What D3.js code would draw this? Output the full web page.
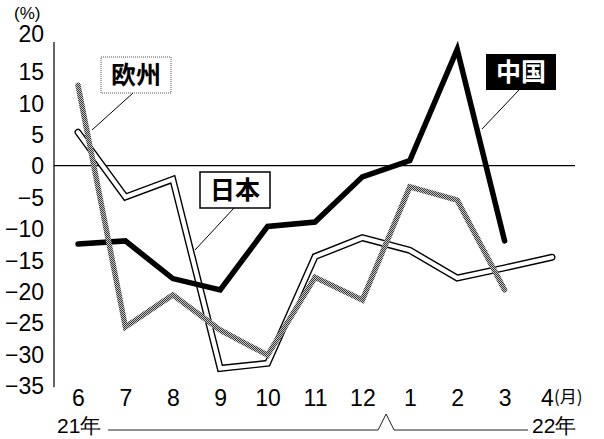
<!DOCTYPE html>
<html><head><meta charset="utf-8">
<script src="https://cdn.jsdelivr.net/npm/d3@7"></script>
<style>body{margin:0;background:#fff} svg{display:block}</style>
</head><body>
<svg id="chart" width="604" height="439"></svg>
<script>
const months = ["6","7","8","9","10","11","12","1","2","3","4"];
const yTicks = [20,15,10,5,0,-5,-10,-15,-20,-25,-30,-35];
const china  = [-12.5,-12.0,-18.0,-19.8,-9.7,-9.0,-1.8,0.8,18.5,-12.0,null];
const japan  = [5.3,-5.0,-2.2,-32.3,-31.5,-14.5,-11.5,-13.5,-17.9,-16.3,-14.6];
const europe = [12.8,-25.7,-20.6,-26.2,-30.2,-17.8,-21.4,-3.4,-5.5,-19.8,null];
const yearLabels = ["21年","22年"];
const unitY = "(%)";
const unitX = "(月)";

const NUM_FONT = "'Liberation Sans', Arial, sans-serif";
const CJK_FONT = "'Noto Sans CJK JP', 'Noto Sans CJK SC', sans-serif";

const svg = d3.select("#chart");
const defs = svg.append("defs");
const pat = defs.append("pattern").attr("id","hatch").attr("patternUnits","userSpaceOnUse")
  .attr("width",2).attr("height",2);
pat.append("rect").attr("width",2).attr("height",2).attr("fill","#c4c4c4");
pat.append("rect").attr("x",0).attr("y",0).attr("width",1).attr("height",1).attr("fill","#3a3a3a");
pat.append("rect").attr("x",1).attr("y",1).attr("width",1).attr("height",1).attr("fill","#3a3a3a");

const x = d3.scalePoint().domain(months).range([78, 552]).padding(0);
const y = d3.scaleLinear().domain([-35, 20]).range([385.3, 40]);
const axisX = 54;

// y axis line
svg.append("line").attr("x1",axisX).attr("x2",axisX).attr("y1",y(20)+2).attr("y2",y(-35)+2)
  .attr("stroke","#000").attr("stroke-width",1.2);
// zero line
svg.append("line").attr("x1",axisX).attr("x2",575).attr("y1",y(0)).attr("y2",y(0))
  .attr("stroke","#000").attr("stroke-width",1.2);

// y axis labels
const gy = svg.append("g").attr("transform",`translate(${axisX},0)`)
  .call(d3.axisLeft(y).tickValues(yTicks).tickSize(0).tickPadding(10).tickFormat(d3.format("d")));
gy.select(".domain").remove();
gy.selectAll("text").attr("font-family",NUM_FONT).attr("font-size",23).attr("fill","#000")
  .attr("dy","0.36em")
  .attr("transform", d => d === 20 ? "translate(0,-7)" : null);
svg.append("text").attr("x",14).attr("y",19).text(unitY)
  .attr("font-family",NUM_FONT).attr("font-size",17).attr("fill","#000");

// x axis labels
const gx = svg.append("g").attr("transform",`translate(0,${y(-35)})`)
  .call(d3.axisBottom(x).tickSize(0).tickPadding(0));
gx.select(".domain").remove();
gx.selectAll("text").attr("font-family",NUM_FONT).attr("font-size",23).attr("fill","#000")
  .attr("y",12).attr("dy","0.36em")
  .attr("dx", d => d === "4" ? -5 : 0);
svg.append("text").attr("x", x("4")+2).attr("y", y(-35)+12).attr("dy","0.36em")
  .text(unitX).attr("font-family",CJK_FONT).attr("font-size",17).attr("fill","#000");

// year line
const baseY = 430;
const mid = (x("12") + x("1"))/2;
svg.append("path").attr("fill","none").attr("stroke","#222").attr("stroke-width",1)
  .attr("d", d3.line()([[x("6")+30, baseY],[mid-8, baseY],[mid, baseY-16],[mid+8, baseY],[x("4")-24, baseY]]));
svg.append("text").attr("x",57).attr("y",425).attr("dy","0.36em").text(yearLabels[0])
  .attr("font-family",NUM_FONT).attr("font-size",21).attr("fill","#000");
svg.append("text").attr("x",x("4")-20).attr("y",425).attr("dy","0.36em").text(yearLabels[1])
  .attr("font-family",NUM_FONT).attr("font-size",21).attr("fill","#000");

const line = d3.line().defined(d => d[1] != null).x(d => x(d[0])).y(d => y(d[1]));
const pts = arr => months.map((m,i) => [m, arr[i]]);

// Japan (double line)
svg.append("path").attr("d", line(pts(japan))).attr("fill","none").attr("stroke","#000")
  .attr("stroke-width",7).attr("stroke-linecap","round").attr("stroke-linejoin","miter");
svg.append("path").attr("d", line(pts(japan))).attr("fill","none").attr("stroke","#fff")
  .attr("stroke-width",4.2).attr("stroke-linecap","round").attr("stroke-linejoin","miter");
// China
svg.append("path").attr("d", line(pts(china))).attr("fill","none").attr("stroke","#000")
  .attr("stroke-width",5.5).attr("stroke-linecap","round").attr("stroke-linejoin","miter");
// Europe
svg.append("path").attr("d", line(pts(europe))).attr("fill","none").attr("stroke","url(#hatch)")
  .attr("stroke-width",5.5).attr("stroke-linecap","round").attr("stroke-linejoin","miter");

// labels
function label(name, bx, by, style, leader){
  svg.append("line").attr("x1",leader[0]).attr("y1",leader[1]).attr("x2",leader[2]).attr("y2",leader[3])
    .attr("stroke","#000").attr("stroke-width",1);
  const r = svg.append("rect").attr("x",bx).attr("y",by).attr("width",70).attr("height",36);
  if (style === "dotted") r.attr("fill","#fff").attr("stroke","#555").attr("stroke-width",1).attr("stroke-dasharray","1,1");
  else if (style === "solid") r.attr("fill","#fff").attr("stroke","#000").attr("stroke-width",1.5);
  else r.attr("fill","#000");
  svg.append("text").attr("x",bx+35).attr("y",by+18).attr("dy","0.36em").attr("text-anchor","middle")
    .text(name).attr("font-family",CJK_FONT).attr("font-weight","bold").attr("font-size",25)
    .attr("fill", style === "filled" ? "#fff" : "#000");
}
label("欧州", 101, 57, "dotted", [133, 93, 92, 130]);
label("日本", 200, 172, "solid", [234, 208, 195, 250]);
label("中国", 486, 54, "filled", [519, 90, 482, 129]);
</script>
</body></html>
